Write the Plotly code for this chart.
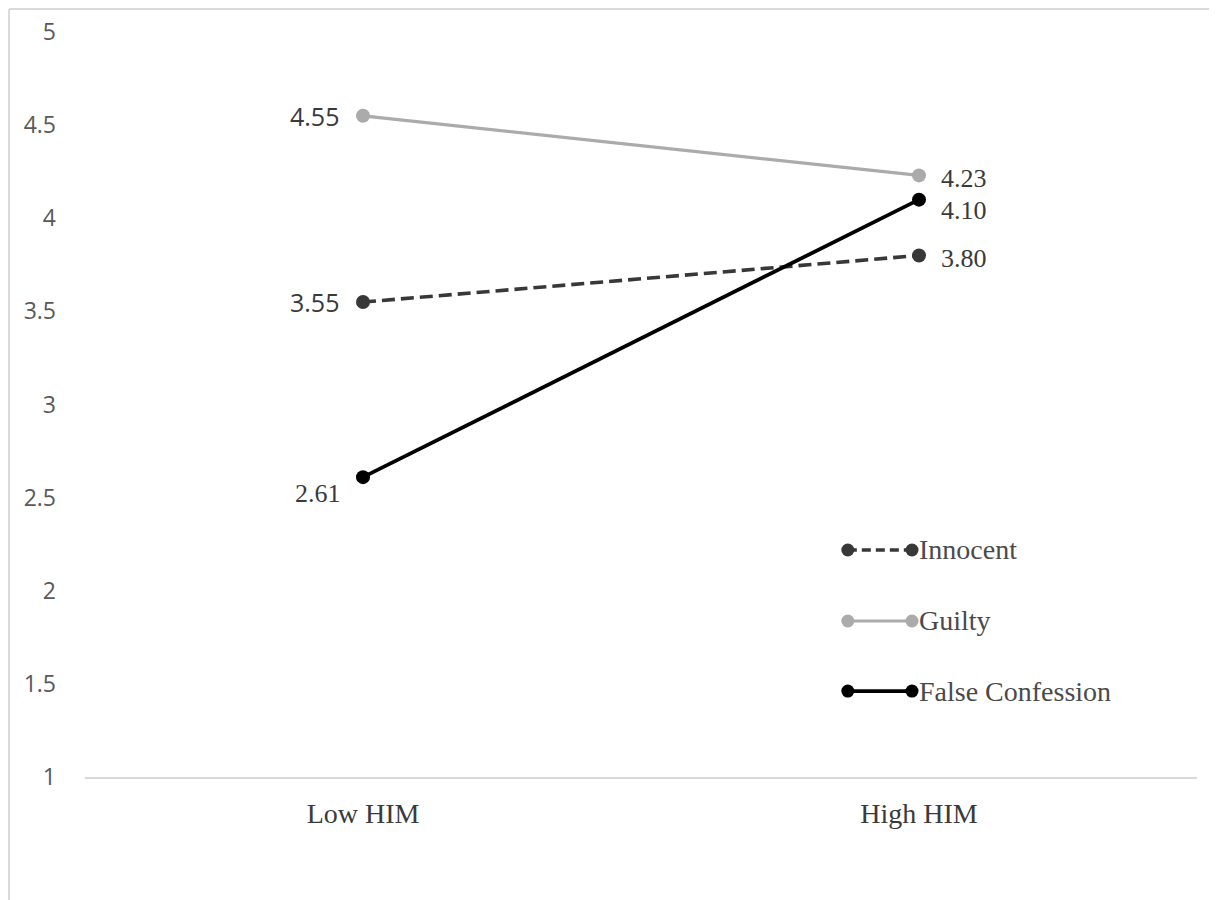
import plotly.graph_objects as go

categories = ["Low HIM", "High HIM"]
series_names = ["Innocent", "Guilty", "False Confession"]
innocent = [3.55, 3.80]
guilty = [4.55, 4.23]
false_conf = [2.61, 4.10]
y_ticks = [1, 1.5, 2, 2.5, 3, 3.5, 4, 4.5, 5]
y_tick_labels = ["1", "1.5", "2", "2.5", "3", "3.5", "4", "4.5", "5"]

colors = {"Innocent": "#383838", "Guilty": "#ababab", "False Confession": "#000000"}
dashes = {"Innocent": "13px,6px", "Guilty": "solid", "False Confession": "solid"}
widths = {"Innocent": 3.6, "Guilty": 3.2, "False Confession": 3.8}
values = {"Innocent": innocent, "Guilty": guilty, "False Confession": false_conf}

SERIF = "Liberation Serif, Times New Roman, serif"
SANS = "Open Sans, Liberation Sans, sans-serif"

fig = go.Figure()
for name in series_names:
    fig.add_trace(go.Scatter(
        x=categories, y=values[name], mode="lines+markers", name=name,
        line=dict(color=colors[name], width=widths[name], dash=dashes[name]),
        marker=dict(color=colors[name], size=14), showlegend=False,
        cliponaxis=False,
    ))

# data labels: (series, index, font, xshift, yshift, anchor)
label_specs = [
    ("Guilty", 0, SANS, -22, 0, "right"),
    ("Innocent", 0, SANS, -22, 0, "right"),
    ("False Confession", 0, SERIF, -20, -16, "right"),
    ("Guilty", 1, SERIF, 20, -3, "left"),
    ("False Confession", 1, SERIF, 20, -11, "left"),
    ("Innocent", 1, SERIF, 20, -3, "left"),
]
annotations = []
for name, i, fam, xs, ys, anc in label_specs:
    annotations.append(dict(
        x=categories[i], y=values[name][i], xref="x", yref="y",
        text=f"{values[name][i]:.2f}", showarrow=False,
        xanchor=anc, yanchor="middle", xshift=xs, yshift=ys,
        font=dict(family=fam, size=25 if fam == SANS else 26, color="#3a3a3a"),
    ))

# custom legend drawn on a hidden overlay axis
legend_y = [0.3047, 0.2094, 0.1154]
for name, ly in zip(series_names, legend_y):
    fig.add_trace(go.Scatter(
        x=[0.686, 0.7437], y=[ly, ly], xaxis="x2", yaxis="y2",
        mode="lines+markers", showlegend=False, hoverinfo="skip",
        line=dict(color=colors[name], width=widths[name], dash=("9px,5px" if name == "Innocent" else "solid")),
        marker=dict(color=colors[name], size=13), cliponaxis=False,
    ))
    annotations.append(dict(
        x=0.7485, y=ly, xref="paper", yref="paper", text=name, showarrow=False,
        xanchor="left", yanchor="middle",
        font=dict(family=SERIF, size=28, color="#4a4a4a"),
    ))

shapes = [
    dict(type="line", xref="paper", yref="paper", x0=-0.0683, x1=1.05, y0=1.0309, y1=1.0309,
         line=dict(color="#d9d9d9", width=2)),
    dict(type="line", xref="paper", yref="paper", x0=-0.0683, x1=-0.0683, y0=1.0309, y1=-0.2,
         line=dict(color="#d9d9d9", width=2)),
]

fig.update_layout(
    width=1217, height=900,
    margin=dict(l=77, r=28, t=24, b=131),
    paper_bgcolor="white", plot_bgcolor="white",
    xaxis=dict(
        type="category", range=[-0.5, 1.5], showgrid=False, zeroline=False,
        showline=True, linecolor="#d9d9d9", linewidth=2, ticks="", automargin=False,
        tickfont=dict(family=SERIF, size=28, color="#3a3a3a"), ticklabelstandoff=10,
    ),
    yaxis=dict(
        range=[1, 5], tickvals=y_ticks, ticktext=y_tick_labels, showgrid=False,
        zeroline=False, showline=False, ticks="", automargin=False,
        tickfont=dict(family=SANS, size=23, color="#595959"), ticklabelstandoff=28,
    ),
    xaxis2=dict(range=[0, 1], overlaying="x", visible=False, domain=[0, 1], automargin=False),
    yaxis2=dict(range=[0, 1], overlaying="y", visible=False, automargin=False),
    annotations=annotations, shapes=shapes,
)

fig.write_html("out.html")
